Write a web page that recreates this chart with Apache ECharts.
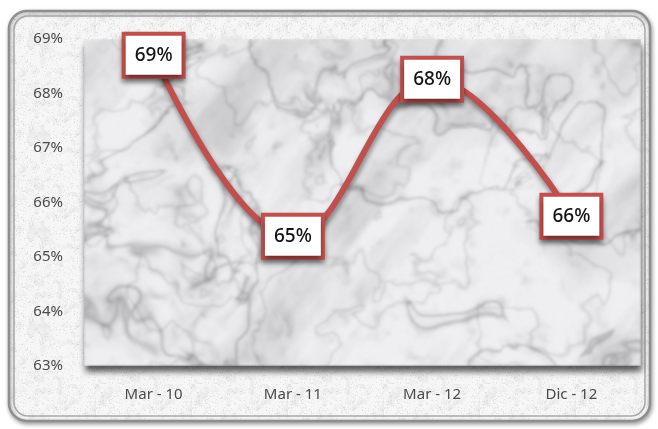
<!DOCTYPE html>
<html>
<head>
<meta charset="utf-8">
<title>Percentuale</title>
<script src="https://cdn.jsdelivr.net/npm/echarts@6/dist/echarts.min.js"></script>
<style>
  html, body { margin: 0; padding: 0; background: #ffffff; }
  #chart { width: 658px; height: 429px; }
</style>
</head>
<body>
<div id="chart"></div>
<script>
// Periods and percentages
const categories = ['Mar - 10', 'Mar - 11', 'Mar - 12', 'Dic - 12'];
const values = [68.70, 65.38, 68.26, 65.75];
const yTicks = [63, 64, 65, 66, 67, 68, 69];

// Plot rectangle (pixels)
const GRID = { left: 84, top: 39, width: 557, height: 327 };

// ---- deterministic noise helpers for the stone textures ----
function hash(x, y, s) {
  let h = (x * 374761393 + y * 668265263 + s * 982451653) | 0;
  h = Math.imul(h ^ (h >>> 13), 1274126177);
  h = h ^ (h >>> 16);
  return (h >>> 0) / 4294967295;
}
function vnoise(x, y, s) {
  const xi = Math.floor(x), yi = Math.floor(y);
  const xf = x - xi, yf = y - yi;
  const u = xf * xf * (3 - 2 * xf), v = yf * yf * (3 - 2 * yf);
  const a = hash(xi, yi, s), b = hash(xi + 1, yi, s);
  const c = hash(xi, yi + 1, s), d = hash(xi + 1, yi + 1, s);
  return a + (b - a) * u + (c - a) * v + (a - b - c + d) * u * v;
}
function fbm(x, y, s, oct) {
  let sum = 0, amp = 0.5, f = 1, norm = 0;
  for (let i = 0; i < oct; i++) {
    sum += amp * vnoise(x * f, y * f, s + i * 17);
    norm += amp; amp *= 0.5; f *= 2.03;
  }
  return sum / norm;
}

// White marble for the plot area: mottled grey clouds with thin veins
function makeMarble(w, h) {
  const raw = document.createElement('canvas');
  raw.width = w; raw.height = h;
  const ctx = raw.getContext('2d');
  const img = ctx.createImageData(w, h);
  const d = img.data;
  for (let y = 0; y < h; y++) {
    for (let x = 0; x < w; x++) {
      const nx = x / 90, ny = y / 90;
      const wx = fbm(nx * 0.6 + 3.1, ny * 0.6 + 1.7, 11, 4);
      const wy = fbm(nx * 0.6 + 7.2, ny * 0.6 + 4.4, 23, 4);
      const cloud = fbm(nx * 1.1 + 1.5 * wx, ny * 1.1 + 1.5 * wy, 37, 5);
      const n1 = fbm(nx * 0.8 + 2.0 * wx, ny * 0.8 + 2.0 * wy, 51, 5);
      const v1 = Math.pow(1 - Math.abs(2 * n1 - 1), 40);
      const n2 = fbm(nx * 1.6 + 1.2 * wy + 9, ny * 1.6 + 1.2 * wx, 71, 4);
      const v2 = Math.pow(1 - Math.abs(2 * n2 - 1), 30);
      // fine mottling
      const mot = fbm(nx * 5 + wx, ny * 5 + wy, 131, 4);
      const mottle = Math.max(0, mot - 0.5) * 2;
      // diagonal smudges running up to the right
      const sm = fbm((nx + ny * 0.8) * 2.2, (ny - nx * 0.6) * 0.5, 91, 4);
      const smudge = Math.max(0, sm - 0.52) * 2.2;
      const grain = (hash(x, y, 5) - 0.5) * 6;
      let g = 239 - 28 * Math.max(0, cloud - 0.45) * 2 - 50 * v1 - 28 * v2
              - 35 * smudge - 40 * mottle * mottle + grain;
      g = Math.max(140, Math.min(249, g));
      const i = (y * w + x) * 4;
      d[i] = g; d[i + 1] = g; d[i + 2] = Math.min(255, g + 3); d[i + 3] = 255;
    }
  }
  ctx.putImageData(img, 0, 0);
  const out = document.createElement('canvas');
  out.width = w; out.height = h;
  const octx = out.getContext('2d');
  octx.filter = 'blur(0.8px)';
  octx.drawImage(raw, 0, 0);
  octx.filter = 'none';
  return out;
}

// Speckled light stone tile for the outer frame
function makeSpeckle(n) {
  const c = document.createElement('canvas');
  c.width = n; c.height = n;
  const ctx = c.getContext('2d');
  const img = ctx.createImageData(n, n);
  const d = img.data;
  for (let y = 0; y < n; y++) {
    for (let x = 0; x < n; x++) {
      const f = fbm(x / 6, y / 6, 101, 3);
      const r = hash(x, y, 7);
      let g = 246 - 22 * Math.max(0, f - 0.5) * 2 - (r > 0.93 ? 22 : 0) + (r - 0.5) * 6;
      g = Math.max(190, Math.min(252, g));
      const i = (y * n + x) * 4;
      d[i] = g; d[i + 1] = g; d[i + 2] = g; d[i + 3] = 255;
    }
  }
  ctx.putImageData(img, 0, 0);
  return c;
}

const marble = makeMarble(GRID.width, GRID.height);
const speckle = makeSpeckle(96);

const RED = '#c0504d';
const AXIS_TEXT = '#4a4a4a';
const FONT = '"Noto Sans", "Open Sans", sans-serif';

const chart = echarts.init(document.getElementById('chart'), null, { renderer: 'canvas' });

chart.setOption({
  animation: false,
  backgroundColor: '#ffffff',
  graphic: [
    {
      type: 'rect', z: -30,
      shape: { x: 9, y: 11, width: 641, height: 410, r: 18 },
      style: {
        fill: { image: speckle, repeat: 'repeat' },
        stroke: '#8e8e8e', lineWidth: 2.5,
        shadowColor: 'rgba(0,0,0,0.35)', shadowBlur: 4, shadowOffsetX: 1, shadowOffsetY: 2
      }
    },
    {
      type: 'rect', z: -29,
      shape: { x: 14, y: 16, width: 631, height: 400, r: 14 },
      style: { fill: null, stroke: 'rgba(160,160,160,0.9)', lineWidth: 1.5 }
    },
    {
      type: 'image', z: -20,
      style: {
        image: marble, x: GRID.left, y: GRID.top, width: GRID.width, height: GRID.height,
        shadowColor: 'rgba(0,0,0,0.65)', shadowBlur: 6, shadowOffsetX: 1, shadowOffsetY: 6
      }
    }
  ],
  grid: {
    left: GRID.left, top: GRID.top, width: GRID.width, height: GRID.height,
    containLabel: false
  },
  xAxis: {
    type: 'category',
    data: categories,
    boundaryGap: true,
    axisLine: { show: false },
    axisTick: { show: false },
    axisLabel: { color: AXIS_TEXT, fontSize: 15, fontFamily: FONT, margin: 21 }
  },
  yAxis: {
    type: 'value',
    min: yTicks[0],
    max: yTicks[yTicks.length - 1],
    interval: 1,
    axisLine: { show: false },
    axisTick: { show: false },
    splitLine: { show: false },
    axisLabel: {
      color: AXIS_TEXT, fontSize: 15, fontFamily: FONT, margin: 21,
      formatter: v => v + '%'
    }
  },
  series: [{
    type: 'line',
    data: values,
    smooth: 0.4,
    symbol: 'circle',
    symbolSize: 2,
    showSymbol: true,
    itemStyle: { color: 'rgba(0,0,0,0)' },
    z: 5,
    lineStyle: {
      color: RED, width: 6,
      shadowColor: 'rgba(0,0,0,0.45)', shadowBlur: 5, shadowOffsetX: 1, shadowOffsetY: 4
    },
    label: {
      show: true,
      position: 'inside',
      formatter: p => Math.round(p.value) + '%',
      color: '#141414',
      fontSize: 19,
      fontWeight: 500,
      fontFamily: FONT,
      lineHeight: 22,
      backgroundColor: '#ffffff',
      borderColor: RED,
      borderWidth: 4,
      padding: [9, 9, 8, 9],
      shadowColor: 'rgba(0,0,0,0.45)',
      shadowBlur: 5,
      shadowOffsetY: 4
    },
    emphasis: { disabled: true }
  }]
});
</script>
</body>
</html>
